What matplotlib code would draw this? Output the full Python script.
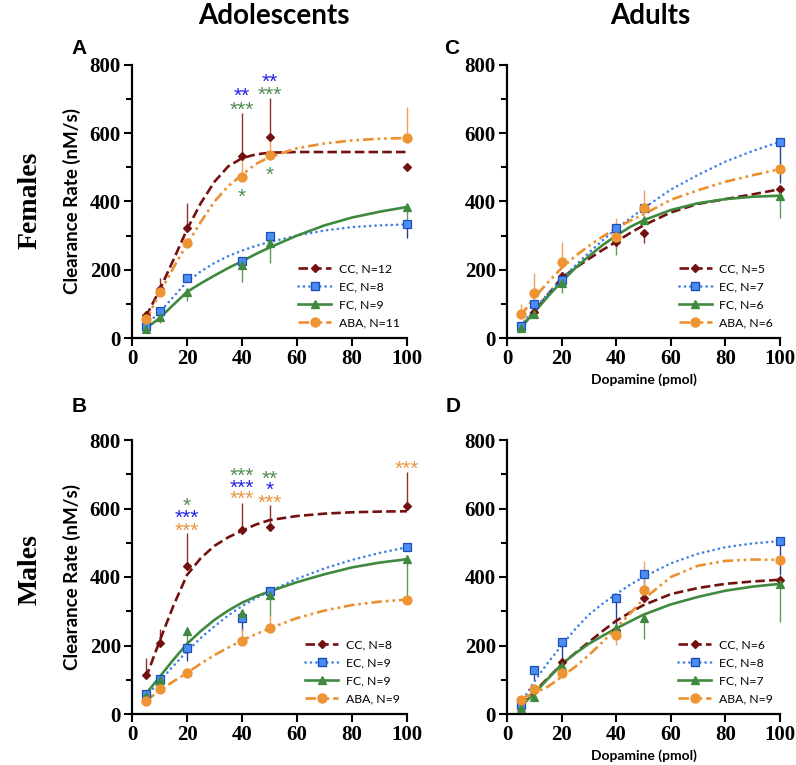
import matplotlib
matplotlib.use('Agg')
import matplotlib.pyplot as plt
from matplotlib.lines import Line2D
from matplotlib.ticker import MultipleLocator

# dose levels (pmol) and the x positions where the fitted curves were read
doses = [5, 10, 20, 40, 50, 100]
fit_x = [5, 10, 15, 20, 25, 30, 35, 40, 45, 50, 60, 70, 80, 90, 100]

groups = ['CC', 'EC', 'FC', 'ABA']

# ---- A: adolescent females
a_cc = [67, 144, 322, 533, 589, 500]
a_ec = [36, 79, 176, 225, 299, 333]
a_fc = [26, 61, 134, 214, 278, 383]
a_aba = [56, 135, 278, 472, 536, 586]
a_cc_err = [12, 32, 74, 126, 114, 0]
a_ec_err = [5, 5, 8, 5, 5, -40]
a_fc_err = [-8, -18, -25, -50, -58, -45]
a_aba_err = [8, 10, 10, 60, 50, 90]
a_cc_fit = [62, 140, 228, 318, 395, 458, 503, 527, 538, 543, 545, 545, 545, 545, 545]
a_ec_fit = [38, 75, 120, 165, 195, 220, 240, 256, 270, 281, 300, 315, 325, 330, 333]
a_fc_fit = [28, 58, 97, 135, 160, 183, 205, 225, 246, 265, 300, 330, 353, 370, 384]
a_aba_fit = [50, 130, 205, 275, 340, 400, 445, 478, 510, 530, 556, 570, 579, 584, 586]
a_n = [12, 8, 9, 11]

# ---- B: adolescent males
b_cc = [113, 207, 433, 537, 547, 607]
b_ec = [58, 102, 194, 281, 360, 488]
b_fc = [52, 100, 242, 295, 347, 453]
b_aba = [39, 73, 120, 214, 251, 333]
b_cc_err = [50, 40, 95, 78, 63, 100]
b_ec_err = [-8, -10, -40, -40, 5, 5]
b_fc_err = [-5, -5, -45, -15, -60, -120]
b_aba_err = [5, 5, 15, 35, 35, 5]
b_cc_fit = [105, 212, 315, 406, 455, 491, 516, 535, 553, 566, 578, 585, 589, 591, 592]
b_ec_fit = [50, 95, 140, 183, 222, 256, 288, 315, 338, 358, 395, 425, 450, 470, 487]
b_fc_fit = [58, 108, 158, 205, 242, 275, 302, 325, 343, 358, 385, 408, 428, 442, 452]
b_aba_fit = [38, 68, 95, 120, 147, 172, 194, 215, 233, 250, 280, 302, 318, 328, 334]
b_n = [8, 9, 9, 9]

# ---- C: adult females
c_cc = [32, 77, 182, 282, 307, 437]
c_ec = [35, 100, 170, 323, 381, 575]
c_fc = [29, 70, 161, 297, 347, 417]
c_aba = [70, 133, 222, 297, 381, 495]
c_cc_err = [5, 8, 10, 15, -28, 0]
c_ec_err = [5, 5, 5, 10, 10, -120]
c_fc_err = [-5, -10, -30, -55, -15, -65]
c_aba_err = [30, 58, 60, 55, 52, 0]
c_cc_fit = [32, 78, 127, 176, 205, 232, 258, 282, 307, 330, 368, 393, 407, 421, 436]
c_ec_fit = [35, 85, 130, 172, 212, 250, 286, 320, 350, 380, 435, 478, 517, 548, 575]
c_fc_fit = [30, 75, 122, 165, 205, 240, 272, 300, 325, 345, 375, 395, 407, 414, 417]
c_aba_fit = [65, 118, 163, 205, 240, 270, 297, 322, 343, 362, 405, 433, 458, 477, 495]
c_n = [5, 7, 6, 6]

# ---- D: adult males
d_cc = [28, 67, 153, 245, 339, 392]
d_ec = [25, 128, 210, 339, 409, 505]
d_fc = [18, 50, 140, 250, 280, 380]
d_aba = [40, 72, 120, 231, 362, 450]
d_cc_err = [5, 5, 5, 5, 5, 5]
d_ec_err = [-5, -30, -57, -95, -70, -100]
d_fc_err = [-5, -5, -5, -5, -60, -110]
d_aba_err = [5, 5, 5, -30, 85, 5]
d_cc_fit = [25, 65, 105, 145, 178, 210, 242, 272, 296, 318, 350, 368, 380, 387, 392]
d_ec_fit = [30, 95, 150, 200, 248, 290, 322, 350, 377, 400, 440, 468, 487, 498, 505]
d_fc_fit = [22, 60, 103, 145, 177, 205, 228, 250, 270, 290, 320, 342, 360, 372, 380]
d_aba_fit = [45, 60, 80, 108, 138, 172, 210, 250, 293, 335, 400, 433, 447, 451, 450]
d_n = [6, 8, 7, 9]

# significance marks (dose, height, text, group colour)
a_stars = [(40, 729, '**', 'EC'), (40, 688, '***', 'FC'), (40, 433, '*', 'FC'),
           (50, 770, '**', 'EC'), (50, 732, '***', 'FC'), (50, 498, '*', 'FC')]
b_stars = [(20, 628, '*', 'FC'), (20, 593, '***', 'EC'), (20, 555, '***', 'ABA'),
           (40, 715, '***', 'FC'), (40, 680, '***', 'EC'), (40, 647, '***', 'ABA'),
           (50, 704, '**', 'FC'), (50, 674, '*', 'EC'), (50, 635, '***', 'ABA'),
           (100, 734, '***', 'ABA')]

line_col = {'CC': '#741010', 'EC': '#3f80e8', 'FC': '#3f8a3f', 'ABA': '#ec902f'}
face_col = {'CC': '#741010', 'EC': '#4a8ef4', 'FC': '#3f8a3f', 'ABA': '#ee9433'}
edge_col = {'CC': '#741010', 'EC': '#1f4fb5', 'FC': '#3f8a3f', 'ABA': '#ee9433'}
err_col = {'CC': '#8a3030', 'EC': '#2a3f9a', 'FC': '#5c9a5c', 'ABA': '#eda060'}
star_col = {'EC': '#2222e6', 'FC': '#4f8c4f', 'ABA': '#e9963f'}
markers = {'CC': 'D', 'EC': 's', 'FC': '^', 'ABA': 'o'}
msize = {'CC': 4.2, 'EC': 6.0, 'FC': 6.0, 'ABA': 6.5}
lstyle = {'CC': (0, (3.6, 1.6)), 'EC': (0, (0.05, 2.0)), 'FC': '-',
          'ABA': (0, (4, 1.5, 1, 1.5, 1, 1.5))}

panels = {
    'A': dict(pts=[a_cc, a_ec, a_fc, a_aba], err=[a_cc_err, a_ec_err, a_fc_err, a_aba_err],
              fit=[a_cc_fit, a_ec_fit, a_fc_fit, a_aba_fit], n=a_n, stars=a_stars),
    'B': dict(pts=[b_cc, b_ec, b_fc, b_aba], err=[b_cc_err, b_ec_err, b_fc_err, b_aba_err],
              fit=[b_cc_fit, b_ec_fit, b_fc_fit, b_aba_fit], n=b_n, stars=b_stars),
    'C': dict(pts=[c_cc, c_ec, c_fc, c_aba], err=[c_cc_err, c_ec_err, c_fc_err, c_aba_err],
              fit=[c_cc_fit, c_ec_fit, c_fc_fit, c_aba_fit], n=c_n, stars=[]),
    'D': dict(pts=[d_cc, d_ec, d_fc, d_aba], err=[d_cc_err, d_ec_err, d_fc_err, d_aba_err],
              fit=[d_cc_fit, d_ec_fit, d_fc_fit, d_aba_fit], n=d_n, stars=[]),
}

W, H = 796, 765
fig = plt.figure(figsize=(W / 100, H / 100), dpi=100)

# axes boxes in pixels: left, top, right, bottom
boxes = {'A': (132, 65, 407, 338), 'C': (507, 65, 780, 338),
         'B': (132, 440, 407, 714), 'D': (507, 440, 780, 714)}

tick_font = dict(family='Liberation Serif', weight='bold', size=15)
sans = ['Lato', 'DejaVu Sans']

for key, p in panels.items():
    l, t, r, b = boxes[key]
    ax = fig.add_axes([l / W, 1 - b / H, (r - l) / W, (b - t) / H])

    for g, pts, err, fit in zip(groups, p['pts'], p['err'], p['fit']):
        lo = [-e if e < 0 else 0 for e in err]
        hi = [e if e > 0 else 0 for e in err]
        ax.errorbar(doses, pts, yerr=[lo, hi], fmt='none', ecolor=err_col[g],
                    elinewidth=1.0, capsize=0, clip_on=False, zorder=2)
        ax.plot(fit_x, fit, color=line_col[g], linestyle=lstyle[g], lw=1.9,
                dash_capstyle='round' if g == 'EC' else 'butt', zorder=3)
        ax.plot(doses, pts, linestyle='none', marker=markers[g], ms=msize[g],
                mfc=face_col[g], mec=edge_col[g], mew=0.9, clip_on=False, zorder=4)

    for x, y, s, g in p['stars']:
        ax.annotate(s, (x, y), xytext=(0, -5), textcoords='offset points',
                    color=star_col[g], ha='center', va='center', fontsize=15,
                    family='Liberation Sans', zorder=5, annotation_clip=False)

    handles = [Line2D([], [], color=line_col[g], linestyle=lstyle[g], lw=1.9,
                      marker=markers[g], ms=msize[g], mfc=face_col[g], mec=edge_col[g],
                      dash_capstyle='round' if g == 'EC' else 'butt')
               for g in groups]
    labels = [f'{g}, N={n}' for g, n in zip(groups, p['n'])]
    ax.legend(handles, labels, loc='lower right', bbox_to_anchor=(1.0, 0.01),
              frameon=False, prop=dict(family=sans, size=8.8), handlelength=2.7,
              handletextpad=0.6, labelspacing=0.55, borderaxespad=0.2)

    ax.set_xlim(0, 100)
    ax.set_ylim(0, 800)
    ax.xaxis.set_major_locator(MultipleLocator(20))
    ax.yaxis.set_major_locator(MultipleLocator(200))
    ax.yaxis.set_minor_locator(MultipleLocator(100))
    ax.spines['top'].set_visible(False)
    ax.spines['right'].set_visible(False)
    for s in ('left', 'bottom'):
        ax.spines[s].set_linewidth(1.6)
    ax.tick_params(which='major', length=6, width=1.5, pad=2)
    ax.tick_params(which='minor', length=4, width=1.5)
    for lab in ax.get_xticklabels() + ax.get_yticklabels():
        lab.set_fontproperties(tick_font)

    if key in ('A', 'B'):
        ax.set_ylabel('Clearance Rate (nM/s)', family=sans, fontsize=13.5,
                      fontweight='bold', labelpad=6)
    else:
        ax.set_xlabel('Dopamine (pmol)', family=sans, fontsize=10,
                      fontweight='bold', labelpad=3)

# panel letters
letter_pos = {'A': (79, 48), 'C': (452, 48), 'B': (79, 407), 'D': (453, 407)}
for k, (x, y) in letter_pos.items():
    fig.text(x / W, 1 - y / H, k, ha='center', va='center', fontsize=15,
             fontweight='bold', family='Liberation Sans')

# column and row headers
fig.text(274 / W, 1 - 16 / H, 'Adolescents', ha='center', va='center', fontsize=20,
         fontweight='bold', family=sans)
fig.text(650 / W, 1 - 16 / H, 'Adults', ha='center', va='center', fontsize=20,
         fontweight='bold', family=sans)
fig.text(30 / W, 1 - 200 / H, 'Females', ha='center', va='center', rotation=90,
         fontsize=20, fontweight='bold', family='Liberation Serif')
fig.text(30 / W, 1 - 570 / H, 'Males', ha='center', va='center', rotation=90,
         fontsize=20, fontweight='bold', family='Liberation Serif')

fig.savefig('out.png', dpi=100)
